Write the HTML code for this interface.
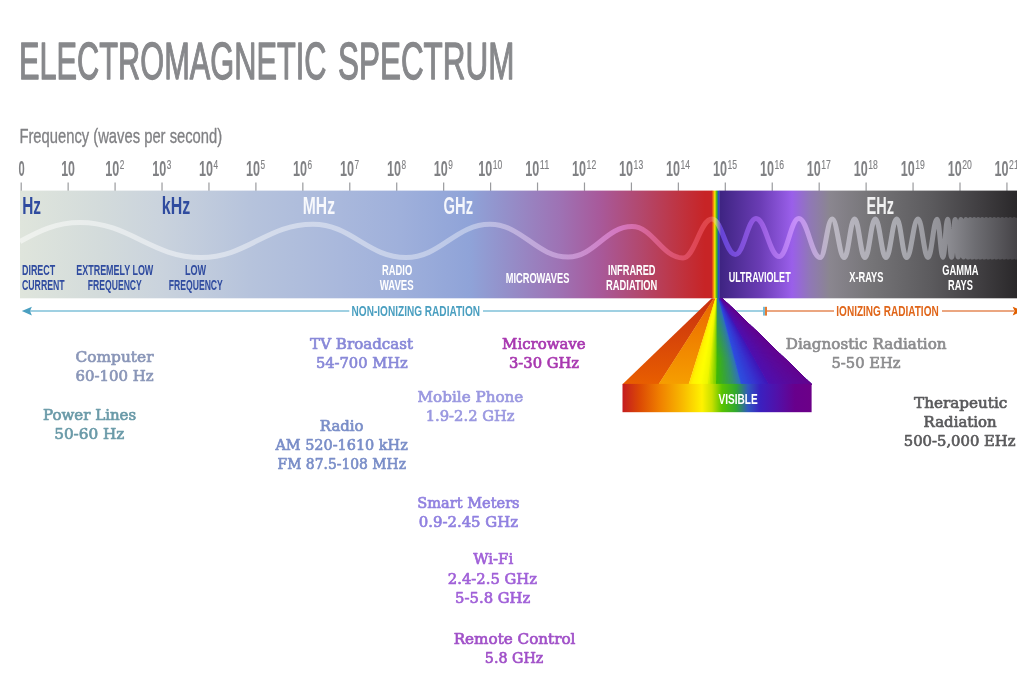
<!DOCTYPE html>
<html lang="en">
<head>
<meta charset="utf-8">
<title>Electromagnetic Spectrum</title>
<style>html,body{margin:0;padding:0;background:#fff;overflow:hidden}svg{display:block}</style>
</head>
<body>
<svg width="1017" height="677" viewBox="0 0 1017 677">
<defs>
<linearGradient id="gb1" gradientUnits="userSpaceOnUse" x1="20" y1="0" x2="712" y2="0"><stop offset="0.0000" stop-color="#dfe5dc"/><stop offset="0.1156" stop-color="#d3dbdb"/><stop offset="0.2023" stop-color="#cad3dd"/><stop offset="0.3324" stop-color="#b6c3dc"/><stop offset="0.4624" stop-color="#a9b8dc"/><stop offset="0.5491" stop-color="#9fb0db"/><stop offset="0.6503" stop-color="#8fa3d8"/><stop offset="0.6936" stop-color="#9393cc"/><stop offset="0.7803" stop-color="#9e72b4"/><stop offset="0.8382" stop-color="#a8599a"/><stop offset="0.8960" stop-color="#b2486e"/><stop offset="0.9538" stop-color="#bf3340"/><stop offset="0.9899" stop-color="#c72426"/><stop offset="0.9997" stop-color="#c72426"/></linearGradient>
<linearGradient id="gb2" gradientUnits="userSpaceOnUse" x1="720" y1="0" x2="1017" y2="0"><stop offset="0.0000" stop-color="#3e2482"/><stop offset="0.1347" stop-color="#6a3cb4"/><stop offset="0.2424" stop-color="#9a5fea"/><stop offset="0.3030" stop-color="#9078b6"/><stop offset="0.3704" stop-color="#8a868f"/><stop offset="0.5051" stop-color="#767578"/><stop offset="0.7071" stop-color="#5c5b5e"/><stop offset="0.8754" stop-color="#403e41"/><stop offset="1.0000" stop-color="#2a282a"/></linearGradient>
<linearGradient id="gvis" gradientUnits="userSpaceOnUse" x1="711.8" y1="0" x2="719.8" y2="0"><stop offset="0.0000" stop-color="#d8281c"/><stop offset="0.1750" stop-color="#f07a10"/><stop offset="0.3750" stop-color="#f8e800"/><stop offset="0.6250" stop-color="#38b020"/><stop offset="0.8500" stop-color="#2848d0"/><stop offset="1.0000" stop-color="#3a2090"/></linearGradient>
<linearGradient id="gw" gradientUnits="userSpaceOnUse" x1="20" y1="0" x2="1017" y2="0"><stop offset="0.0000" stop-color="#ffffff" stop-opacity="0.5"/><stop offset="0.4514" stop-color="#ffffff" stop-opacity="0.38"/><stop offset="0.5416" stop-color="#f0d0ff" stop-opacity="0.45"/><stop offset="0.6018" stop-color="#ee90e8" stop-opacity="0.6"/><stop offset="0.6419" stop-color="#f070a0" stop-opacity="0.6"/><stop offset="0.6820" stop-color="#f05868" stop-opacity="0.6"/><stop offset="0.6931" stop-color="#f06060" stop-opacity="0.6"/><stop offset="0.6981" stop-color="#f4f490" stop-opacity="0.5"/><stop offset="0.7031" stop-color="#6a48e0" stop-opacity="0.9"/><stop offset="0.7422" stop-color="#a060e8" stop-opacity="0.85"/><stop offset="0.7773" stop-color="#d098ff" stop-opacity="0.8"/><stop offset="0.8124" stop-color="#c8c4d0" stop-opacity="0.8"/><stop offset="0.8826" stop-color="#b4b5bc" stop-opacity="0.85"/><stop offset="0.9278" stop-color="#96969c" stop-opacity="0.9"/><stop offset="0.9579" stop-color="#727277" stop-opacity="0.9"/><stop offset="1.0000" stop-color="#454347" stop-opacity="1"/></linearGradient>
<linearGradient id="gvr" gradientUnits="userSpaceOnUse" x1="622.5" y1="0" x2="811.6" y2="0"><stop offset="0.0000" stop-color="#c41c20"/><stop offset="0.0925" stop-color="#dc4a04"/><stop offset="0.1983" stop-color="#f08000"/><stop offset="0.3146" stop-color="#f8b800"/><stop offset="0.4204" stop-color="#fff200"/><stop offset="0.4733" stop-color="#c8e000"/><stop offset="0.5262" stop-color="#58c400"/><stop offset="0.6002" stop-color="#30a830"/><stop offset="0.6637" stop-color="#3058c0"/><stop offset="0.7271" stop-color="#3a20c0"/><stop offset="0.8223" stop-color="#5210a8"/><stop offset="0.9122" stop-color="#68008c"/><stop offset="1.0000" stop-color="#6c0088"/></linearGradient>
<linearGradient id="f1" gradientUnits="userSpaceOnUse" x1="0" y1="298" x2="0" y2="384"><stop offset="0" stop-color="#c83010"/><stop offset="1" stop-color="#e85e00"/></linearGradient>
<linearGradient id="f2" gradientUnits="userSpaceOnUse" x1="0" y1="298" x2="0" y2="384"><stop offset="0" stop-color="#ea6800"/><stop offset="1" stop-color="#f69e00"/></linearGradient>
<linearGradient id="f3" gradientUnits="userSpaceOnUse" x1="689" y1="0" x2="716" y2="0"><stop offset="0.0000" stop-color="#fcd800"/><stop offset="0.5185" stop-color="#ffff00"/><stop offset="1.0000" stop-color="#58c800"/></linearGradient>
<linearGradient id="f4" gradientUnits="userSpaceOnUse" x1="716" y1="0" x2="741" y2="0"><stop offset="0.0000" stop-color="#48c000"/><stop offset="0.4800" stop-color="#38a838"/><stop offset="1.0000" stop-color="#3078c8"/></linearGradient>
<linearGradient id="f4o" gradientUnits="userSpaceOnUse" x1="0" y1="298" x2="0" y2="384"><stop offset="0" stop-color="#2c70b8" stop-opacity="0.8"/><stop offset="0.7" stop-color="#2c70b8" stop-opacity="0"/></linearGradient>
<linearGradient id="f5" gradientUnits="userSpaceOnUse" x1="741" y1="0" x2="769" y2="0"><stop offset="0.0000" stop-color="#2c58e0"/><stop offset="1.0000" stop-color="#3c18c0"/></linearGradient>
<linearGradient id="f6" gradientUnits="userSpaceOnUse" x1="769" y1="0" x2="811.6" y2="0"><stop offset="0.0000" stop-color="#4a10b0"/><stop offset="0.4930" stop-color="#5c0898"/><stop offset="1.0000" stop-color="#62048e"/></linearGradient>
</defs>
<rect width="1017" height="677" fill="#ffffff"/>
<text y="79" font-family="'Liberation Sans', sans-serif" font-size="51.6" fill="#87888b" stroke="#87888b" stroke-width="1.3" stroke-linejoin="round"><tspan x="19.0" textLength="307.4" lengthAdjust="spacingAndGlyphs">ELECTROMAGNETIC</tspan> <tspan x="338.0" textLength="176.4" lengthAdjust="spacingAndGlyphs">SPECTRUM</tspan></text>
<text x="19.4" y="143.1" font-family="'Liberation Sans', sans-serif" font-size="21" font-weight="normal" fill="#808184" textLength="202.8" lengthAdjust="spacingAndGlyphs" stroke="#808184" stroke-width="0.35" stroke-linejoin="round">Frequency (waves per second)</text>
<rect x="20.60" y="182.5" width="1.2" height="8.5" fill="#9a9b9e"/>
<rect x="67.54" y="182.5" width="1.2" height="8.5" fill="#9a9b9e"/>
<rect x="114.48" y="182.5" width="1.2" height="8.5" fill="#9a9b9e"/>
<rect x="161.42" y="182.5" width="1.2" height="8.5" fill="#9a9b9e"/>
<rect x="208.36" y="182.5" width="1.2" height="8.5" fill="#9a9b9e"/>
<rect x="255.30" y="182.5" width="1.2" height="8.5" fill="#9a9b9e"/>
<rect x="302.24" y="182.5" width="1.2" height="8.5" fill="#9a9b9e"/>
<rect x="349.18" y="182.5" width="1.2" height="8.5" fill="#9a9b9e"/>
<rect x="396.12" y="182.5" width="1.2" height="8.5" fill="#9a9b9e"/>
<rect x="443.06" y="182.5" width="1.2" height="8.5" fill="#9a9b9e"/>
<rect x="490.00" y="182.5" width="1.2" height="8.5" fill="#9a9b9e"/>
<rect x="536.94" y="182.5" width="1.2" height="8.5" fill="#9a9b9e"/>
<rect x="583.88" y="182.5" width="1.2" height="8.5" fill="#9a9b9e"/>
<rect x="630.82" y="182.5" width="1.2" height="8.5" fill="#9a9b9e"/>
<rect x="677.76" y="182.5" width="1.2" height="8.5" fill="#9a9b9e"/>
<rect x="724.70" y="182.5" width="1.2" height="8.5" fill="#9a9b9e"/>
<rect x="771.64" y="182.5" width="1.2" height="8.5" fill="#9a9b9e"/>
<rect x="818.58" y="182.5" width="1.2" height="8.5" fill="#9a9b9e"/>
<rect x="865.52" y="182.5" width="1.2" height="8.5" fill="#9a9b9e"/>
<rect x="912.46" y="182.5" width="1.2" height="8.5" fill="#9a9b9e"/>
<rect x="959.40" y="182.5" width="1.2" height="8.5" fill="#9a9b9e"/>
<rect x="1006.34" y="182.5" width="1.2" height="8.5" fill="#9a9b9e"/>
<text x="18.6" y="175.8" font-family="'Liberation Sans', sans-serif" font-size="22.3" font-weight="bold" fill="#808184" textLength="6.2" lengthAdjust="spacingAndGlyphs">0</text>
<text x="61.2" y="175.8" font-family="'Liberation Sans', sans-serif" font-size="22.3" font-weight="bold" fill="#808184" textLength="13.8" lengthAdjust="spacingAndGlyphs">10</text>
<text y="175.8" font-family="'Liberation Sans', sans-serif" fill="#808184"><tspan x="105.2" font-size="22.3" textLength="14.0" lengthAdjust="spacingAndGlyphs" font-weight="bold">10</tspan><tspan x="119.7" y="168.6" font-size="12.4" textLength="4.6" lengthAdjust="spacingAndGlyphs" stroke="#808184" stroke-width="0.15">2</tspan></text>
<text y="175.8" font-family="'Liberation Sans', sans-serif" fill="#808184"><tspan x="152.2" font-size="22.3" textLength="14.0" lengthAdjust="spacingAndGlyphs" font-weight="bold">10</tspan><tspan x="166.7" y="168.6" font-size="12.4" textLength="4.6" lengthAdjust="spacingAndGlyphs" stroke="#808184" stroke-width="0.15">3</tspan></text>
<text y="175.8" font-family="'Liberation Sans', sans-serif" fill="#808184"><tspan x="199.1" font-size="22.3" textLength="14.0" lengthAdjust="spacingAndGlyphs" font-weight="bold">10</tspan><tspan x="213.6" y="168.6" font-size="12.4" textLength="4.6" lengthAdjust="spacingAndGlyphs" stroke="#808184" stroke-width="0.15">4</tspan></text>
<text y="175.8" font-family="'Liberation Sans', sans-serif" fill="#808184"><tspan x="246.0" font-size="22.3" textLength="14.0" lengthAdjust="spacingAndGlyphs" font-weight="bold">10</tspan><tspan x="260.5" y="168.6" font-size="12.4" textLength="4.6" lengthAdjust="spacingAndGlyphs" stroke="#808184" stroke-width="0.15">5</tspan></text>
<text y="175.8" font-family="'Liberation Sans', sans-serif" fill="#808184"><tspan x="293.0" font-size="22.3" textLength="14.0" lengthAdjust="spacingAndGlyphs" font-weight="bold">10</tspan><tspan x="307.5" y="168.6" font-size="12.4" textLength="4.6" lengthAdjust="spacingAndGlyphs" stroke="#808184" stroke-width="0.15">6</tspan></text>
<text y="175.8" font-family="'Liberation Sans', sans-serif" fill="#808184"><tspan x="339.9" font-size="22.3" textLength="14.0" lengthAdjust="spacingAndGlyphs" font-weight="bold">10</tspan><tspan x="354.4" y="168.6" font-size="12.4" textLength="4.6" lengthAdjust="spacingAndGlyphs" stroke="#808184" stroke-width="0.15">7</tspan></text>
<text y="175.8" font-family="'Liberation Sans', sans-serif" fill="#808184"><tspan x="386.9" font-size="22.3" textLength="14.0" lengthAdjust="spacingAndGlyphs" font-weight="bold">10</tspan><tspan x="401.4" y="168.6" font-size="12.4" textLength="4.6" lengthAdjust="spacingAndGlyphs" stroke="#808184" stroke-width="0.15">8</tspan></text>
<text y="175.8" font-family="'Liberation Sans', sans-serif" fill="#808184"><tspan x="433.8" font-size="22.3" textLength="14.0" lengthAdjust="spacingAndGlyphs" font-weight="bold">10</tspan><tspan x="448.3" y="168.6" font-size="12.4" textLength="4.6" lengthAdjust="spacingAndGlyphs" stroke="#808184" stroke-width="0.15">9</tspan></text>
<text y="175.8" font-family="'Liberation Sans', sans-serif" fill="#808184"><tspan x="478.2" font-size="22.3" textLength="14.0" lengthAdjust="spacingAndGlyphs" font-weight="bold">10</tspan><tspan x="492.7" y="168.6" font-size="12.4" textLength="9.6" lengthAdjust="spacingAndGlyphs" stroke="#808184" stroke-width="0.15">10</tspan></text>
<text y="175.8" font-family="'Liberation Sans', sans-serif" fill="#808184"><tspan x="525.2" font-size="22.3" textLength="14.0" lengthAdjust="spacingAndGlyphs" font-weight="bold">10</tspan><tspan x="539.7" y="168.6" font-size="12.4" textLength="9.6" lengthAdjust="spacingAndGlyphs" stroke="#808184" stroke-width="0.15">11</tspan></text>
<text y="175.8" font-family="'Liberation Sans', sans-serif" fill="#808184"><tspan x="572.1" font-size="22.3" textLength="14.0" lengthAdjust="spacingAndGlyphs" font-weight="bold">10</tspan><tspan x="586.6" y="168.6" font-size="12.4" textLength="9.6" lengthAdjust="spacingAndGlyphs" stroke="#808184" stroke-width="0.15">12</tspan></text>
<text y="175.8" font-family="'Liberation Sans', sans-serif" fill="#808184"><tspan x="619.1" font-size="22.3" textLength="14.0" lengthAdjust="spacingAndGlyphs" font-weight="bold">10</tspan><tspan x="633.6" y="168.6" font-size="12.4" textLength="9.6" lengthAdjust="spacingAndGlyphs" stroke="#808184" stroke-width="0.15">13</tspan></text>
<text y="175.8" font-family="'Liberation Sans', sans-serif" fill="#808184"><tspan x="666.0" font-size="22.3" textLength="14.0" lengthAdjust="spacingAndGlyphs" font-weight="bold">10</tspan><tspan x="680.5" y="168.6" font-size="12.4" textLength="9.6" lengthAdjust="spacingAndGlyphs" stroke="#808184" stroke-width="0.15">14</tspan></text>
<text y="175.8" font-family="'Liberation Sans', sans-serif" fill="#808184"><tspan x="713.0" font-size="22.3" textLength="14.0" lengthAdjust="spacingAndGlyphs" font-weight="bold">10</tspan><tspan x="727.5" y="168.6" font-size="12.4" textLength="9.6" lengthAdjust="spacingAndGlyphs" stroke="#808184" stroke-width="0.15">15</tspan></text>
<text y="175.8" font-family="'Liberation Sans', sans-serif" fill="#808184"><tspan x="759.9" font-size="22.3" textLength="14.0" lengthAdjust="spacingAndGlyphs" font-weight="bold">10</tspan><tspan x="774.4" y="168.6" font-size="12.4" textLength="9.6" lengthAdjust="spacingAndGlyphs" stroke="#808184" stroke-width="0.15">16</tspan></text>
<text y="175.8" font-family="'Liberation Sans', sans-serif" fill="#808184"><tspan x="806.8" font-size="22.3" textLength="14.0" lengthAdjust="spacingAndGlyphs" font-weight="bold">10</tspan><tspan x="821.3" y="168.6" font-size="12.4" textLength="9.6" lengthAdjust="spacingAndGlyphs" stroke="#808184" stroke-width="0.15">17</tspan></text>
<text y="175.8" font-family="'Liberation Sans', sans-serif" fill="#808184"><tspan x="853.8" font-size="22.3" textLength="14.0" lengthAdjust="spacingAndGlyphs" font-weight="bold">10</tspan><tspan x="868.3" y="168.6" font-size="12.4" textLength="9.6" lengthAdjust="spacingAndGlyphs" stroke="#808184" stroke-width="0.15">18</tspan></text>
<text y="175.8" font-family="'Liberation Sans', sans-serif" fill="#808184"><tspan x="900.7" font-size="22.3" textLength="14.0" lengthAdjust="spacingAndGlyphs" font-weight="bold">10</tspan><tspan x="915.2" y="168.6" font-size="12.4" textLength="9.6" lengthAdjust="spacingAndGlyphs" stroke="#808184" stroke-width="0.15">19</tspan></text>
<text y="175.8" font-family="'Liberation Sans', sans-serif" fill="#808184"><tspan x="947.7" font-size="22.3" textLength="14.0" lengthAdjust="spacingAndGlyphs" font-weight="bold">10</tspan><tspan x="962.2" y="168.6" font-size="12.4" textLength="9.6" lengthAdjust="spacingAndGlyphs" stroke="#808184" stroke-width="0.15">20</tspan></text>
<text y="175.8" font-family="'Liberation Sans', sans-serif" fill="#808184"><tspan x="994.6" font-size="22.3" textLength="14.0" lengthAdjust="spacingAndGlyphs" font-weight="bold">10</tspan><tspan x="1009.1" y="168.6" font-size="12.4" textLength="9.6" lengthAdjust="spacingAndGlyphs" stroke="#808184" stroke-width="0.15">21</tspan></text>
<rect x="20" y="190.6" width="692.2" height="107.7" fill="url(#gb1)"/>
<rect x="719.6" y="190.6" width="298" height="107.7" fill="url(#gb2)"/>
<rect x="711.8" y="190.6" width="8" height="107.9" fill="url(#gvis)"/>
<path d="M20,241.5 C39,231 56,222.5 80,222.5 C129.6,222.5 151.4,257.5 201,257.5 C246.9,257.5 267.1,224.2 313,224.2 C351.1,224.2 367.9,257.6 406,257.6 C440.4,257.6 455.6,224.3 490,224.3 C522.1,224.3 536.1,257 568.2,257 C594.4,257 605.8,226.5 632,226.5 C652.9,226.5 662.1,258 683,258 C694.9,258 700.1,219 712,219 C721.6,219 725.8,254.5 735.4,254.5 C743.8,254.5 747.6,218.6 756,218.6 C765.5,218.6 769.6,256.5 779.1,256.5 C787.2,256.5 790.7,218.6 798.8,218.6 C807.6,218.6 811.4,257.5 820.2,257.5 C825.1,257.5 827.3,219 832.2,219 C837.1,219 839.3,257.6 844.2,257.6 C848.5,257.6 850.3,219 854.6,219 C858.8,219 860.7,257.6 864.9,257.6 C869.2,257.6 871.0,219 875.3,219 C879.7,219 881.6,257.6 886,257.6 C890.4,257.6 892.3,219 896.7,219 C900.8,219 902.5,257.6 906.6,257.6 C911.3,257.6 913.3,219 918.0,219 C922.1,219 923.9,257.4 928.0,257.4 C931.7,257.4 933.4,219.2 937.1,219.2 C939.5,219.2 940.6,257.3 943.0,257.3 C944.9,257.3 945.7,219.3 947.6,219.3 C949.2,219.3 950.0,257.2 951.6,257.2 C953.1,257.2 953.7,219.4 955.2,219.4 C956.4,219.4 957.0,257.1 958.2,257.1 C959.3,257.1 959.8,219.5 960.9,219.5 C962.0,219.5 962.4,257.1 963.5,257.1 C964.5,257.1 964.9,219.5 965.9,219.5 C966.8,219.5 967.2,257.1 968.1,257.1 C969.0,257.1 969.3,219.5 970.2,219.5 C971.0,219.5 971.4,257.1 972.2,257.1 C973.0,257.1 973.4,219.5 974.2,219.5 C975.0,219.5 975.4,257.1 976.2,257.1 C977.0,257.1 977.4,219.5 978.2,219.5 C979.0,219.5 979.4,257.1 980.2,257.1 C981.0,257.1 981.4,219.5 982.2,219.5 C983.0,219.5 983.4,257.1 984.2,257.1 C985.0,257.1 985.4,219.5 986.2,219.5 C987.0,219.5 987.4,257.1 988.2,257.1 C989.0,257.1 989.4,219.5 990.2,219.5 C991.0,219.5 991.4,257.1 992.2,257.1 C993.0,257.1 993.4,219.5 994.2,219.5 C995.0,219.5 995.4,257.1 996.2,257.1 C997.0,257.1 997.4,219.5 998.2,219.5 C999.0,219.5 999.4,257.1 1000.2,257.1 C1001.0,257.1 1001.4,219.5 1002.2,219.5 C1003.0,219.5 1003.4,257.1 1004.2,257.1 C1005.0,257.1 1005.4,219.5 1006.2,219.5 C1007.0,219.5 1007.4,257.1 1008.2,257.1 C1009.0,257.1 1009.4,219.5 1010.2,219.5 C1011.0,219.5 1011.4,257.1 1012.2,257.1 C1013.0,257.1 1013.4,219.5 1014.2,219.5 C1015.0,219.5 1015.4,257.1 1016.2,257.1 C1017.0,257.1 1017.4,219.5 1018.2,219.5 C1019.0,219.5 1019.4,257.1 1020.2,257.1 C1021.0,257.1 1021.4,219.5 1022.2,219.5 C1023.0,219.5 1023.4,257.1 1024.2,257.1" fill="none" stroke="url(#gw)" stroke-width="5" stroke-linecap="butt" stroke-linejoin="round"/>
<text x="22.2" y="214.3" font-family="'Liberation Sans', sans-serif" font-size="24" font-weight="bold" fill="#2f4b9f" textLength="18.8" lengthAdjust="spacingAndGlyphs">Hz</text>
<text x="161.8" y="214.3" font-family="'Liberation Sans', sans-serif" font-size="24" font-weight="bold" fill="#2f4b9f" textLength="28.4" lengthAdjust="spacingAndGlyphs">kHz</text>
<text x="302.8" y="214.3" font-family="'Liberation Sans', sans-serif" font-size="24" font-weight="bold" fill="#ffffff" textLength="32.2" lengthAdjust="spacingAndGlyphs" fill-opacity="0.9">MHz</text>
<text x="443.5" y="214.3" font-family="'Liberation Sans', sans-serif" font-size="24" font-weight="bold" fill="#ffffff" textLength="29.5" lengthAdjust="spacingAndGlyphs" fill-opacity="0.9">GHz</text>
<text x="866.6" y="214.1" font-family="'Liberation Sans', sans-serif" font-size="24" font-weight="bold" fill="#ffffff" textLength="27.4" lengthAdjust="spacingAndGlyphs" fill-opacity="0.9">EHz</text>
<text x="22.0" y="274.9" font-family="'Liberation Sans', sans-serif" font-size="13.8" font-weight="bold" fill="#2f4b9f" textLength="33.2" lengthAdjust="spacingAndGlyphs">DIRECT</text>
<text x="22.0" y="289.9" font-family="'Liberation Sans', sans-serif" font-size="13.8" font-weight="bold" fill="#2f4b9f" textLength="42.7" lengthAdjust="spacingAndGlyphs">CURRENT</text>
<text x="76.3" y="274.9" font-family="'Liberation Sans', sans-serif" font-size="13.8" font-weight="bold" fill="#2f4b9f" textLength="77.0" lengthAdjust="spacingAndGlyphs">EXTREMELY LOW</text>
<text x="87.8" y="289.9" font-family="'Liberation Sans', sans-serif" font-size="13.8" font-weight="bold" fill="#2f4b9f" textLength="54.0" lengthAdjust="spacingAndGlyphs">FREQUENCY</text>
<text x="185.0" y="274.9" font-family="'Liberation Sans', sans-serif" font-size="13.8" font-weight="bold" fill="#2f4b9f" textLength="21.2" lengthAdjust="spacingAndGlyphs">LOW</text>
<text x="168.8" y="289.9" font-family="'Liberation Sans', sans-serif" font-size="13.8" font-weight="bold" fill="#2f4b9f" textLength="54.0" lengthAdjust="spacingAndGlyphs">FREQUENCY</text>
<text x="382.0" y="274.9" font-family="'Liberation Sans', sans-serif" font-size="13.8" font-weight="bold" fill="#ffffff" textLength="30.2" lengthAdjust="spacingAndGlyphs">RADIO</text>
<text x="379.7" y="289.9" font-family="'Liberation Sans', sans-serif" font-size="13.8" font-weight="bold" fill="#ffffff" textLength="34.0" lengthAdjust="spacingAndGlyphs">WAVES</text>
<text x="505.7" y="282.5" font-family="'Liberation Sans', sans-serif" font-size="13.8" font-weight="bold" fill="#ffffff" textLength="63.7" lengthAdjust="spacingAndGlyphs">MICROWAVES</text>
<text x="607.9" y="274.9" font-family="'Liberation Sans', sans-serif" font-size="13.8" font-weight="bold" fill="#ffffff" textLength="47.6" lengthAdjust="spacingAndGlyphs">INFRARED</text>
<text x="606.1" y="289.9" font-family="'Liberation Sans', sans-serif" font-size="13.8" font-weight="bold" fill="#ffffff" textLength="51.2" lengthAdjust="spacingAndGlyphs">RADIATION</text>
<text x="728.7" y="282.3" font-family="'Liberation Sans', sans-serif" font-size="13.8" font-weight="bold" fill="#ffffff" textLength="62.0" lengthAdjust="spacingAndGlyphs">ULTRAVIOLET</text>
<text x="849.2" y="282.3" font-family="'Liberation Sans', sans-serif" font-size="13.8" font-weight="bold" fill="#ffffff" textLength="34.2" lengthAdjust="spacingAndGlyphs">X-RAYS</text>
<text x="942.2" y="275.1" font-family="'Liberation Sans', sans-serif" font-size="13.8" font-weight="bold" fill="#ffffff" textLength="36.3" lengthAdjust="spacingAndGlyphs">GAMMA</text>
<text x="948.1" y="289.8" font-family="'Liberation Sans', sans-serif" font-size="13.8" font-weight="bold" fill="#ffffff" textLength="24.8" lengthAdjust="spacingAndGlyphs">RAYS</text>
<rect x="30" y="310" width="319.3" height="2" fill="#9fd0e2"/>
<rect x="483" y="310" width="281" height="2" fill="#9fd0e2"/>
<path d="M21.8,311 L31.9,306.8 L30,311 L31.9,315.4 Z" fill="#4a9fc0"/>
<rect x="763" y="306.8" width="2" height="8.8" fill="#78bcd6"/>
<rect x="765" y="306.8" width="2" height="8.8" fill="#e67a30"/>
<rect x="767" y="310" width="67" height="2" fill="#eba680"/>
<rect x="942" y="310" width="72" height="2" fill="#eba680"/>
<path d="M1022.8,311 L1012.7,306.8 L1014.6,311 L1012.7,315.4 Z" fill="#e05f00"/>
<text x="351.6" y="316.1" font-family="'Liberation Sans', sans-serif" font-size="15.3" font-weight="bold" fill="#4a9fc0" textLength="128.4" lengthAdjust="spacingAndGlyphs">NON-IONIZING RADIATION</text>
<text x="836.3" y="316.1" font-family="'Liberation Sans', sans-serif" font-size="15.3" font-weight="bold" fill="#e0661a" textLength="102.4" lengthAdjust="spacingAndGlyphs">IONIZING RADIATION</text>
<polygon points="711.5,298.4 713.9,298.4 658.8,384.2 622.5,384.2" fill="url(#f1)"/>
<polygon points="713.6,298.4 715.6,298.4 688.9,384.2 658.5,384.2" fill="url(#f2)"/>
<polygon points="715.3,298.4 716.9,298.4 716.0,384.2 688.6,384.2" fill="#ffe100"/>
<polygon points="715.4,298.4 716.9,298.4 716.0,384.2 690.2,384.2" fill="#ffec00"/>
<polygon points="715.5,298.4 716.9,298.4 716.0,384.2 691.8,384.2" fill="#fff300"/>
<polygon points="715.6,298.4 716.9,298.4 716.0,384.2 693.4,384.2" fill="#fff600"/>
<polygon points="715.7,298.4 716.9,298.4 716.0,384.2 695.0,384.2" fill="#fff800"/>
<polygon points="715.8,298.4 716.9,298.4 716.0,384.2 696.7,384.2" fill="#fffb00"/>
<polygon points="715.9,298.4 716.9,298.4 716.0,384.2 698.3,384.2" fill="#fffd00"/>
<polygon points="716.0,298.4 716.9,298.4 716.0,384.2 699.9,384.2" fill="#fdfe00"/>
<polygon points="716.1,298.4 716.9,298.4 716.0,384.2 701.5,384.2" fill="#f9fc00"/>
<polygon points="716.2,298.4 716.9,298.4 716.0,384.2 703.1,384.2" fill="#f5fa00"/>
<polygon points="716.3,298.4 716.9,298.4 716.0,384.2 704.7,384.2" fill="#f2f800"/>
<polygon points="716.4,298.4 716.9,298.4 716.0,384.2 706.3,384.2" fill="#ecf500"/>
<polygon points="716.5,298.4 716.9,298.4 716.0,384.2 707.9,384.2" fill="#d6ee00"/>
<polygon points="716.6,298.4 716.9,298.4 716.0,384.2 709.6,384.2" fill="#c0e600"/>
<polygon points="716.7,298.4 716.9,298.4 716.0,384.2 711.2,384.2" fill="#abdf00"/>
<polygon points="716.8,298.4 716.9,298.4 716.0,384.2 712.8,384.2" fill="#95d700"/>
<polygon points="716.8,298.4 716.9,298.4 716.0,384.2 714.4,384.2" fill="#7fd000"/>
<polygon points="716.9,298.4 718.4,298.4 741.0,384.2 716.0,384.2" fill="#3fb804"/>
<polygon points="717.0,298.4 718.4,298.4 741.0,384.2 717.6,384.2" fill="#3eb50e"/>
<polygon points="717.1,298.4 718.4,298.4 741.0,384.2 719.1,384.2" fill="#3cb117"/>
<polygon points="717.2,298.4 718.4,298.4 741.0,384.2 720.7,384.2" fill="#3bae21"/>
<polygon points="717.3,298.4 718.4,298.4 741.0,384.2 722.2,384.2" fill="#39aa2a"/>
<polygon points="717.4,298.4 718.4,298.4 741.0,384.2 723.8,384.2" fill="#38a634"/>
<polygon points="717.5,298.4 718.4,298.4 741.0,384.2 725.4,384.2" fill="#37a23f"/>
<polygon points="717.6,298.4 718.4,298.4 741.0,384.2 726.9,384.2" fill="#369e4a"/>
<polygon points="717.7,298.4 718.4,298.4 741.0,384.2 728.5,384.2" fill="#369a56"/>
<polygon points="717.8,298.4 718.4,298.4 741.0,384.2 730.1,384.2" fill="#359661"/>
<polygon points="717.8,298.4 718.4,298.4 741.0,384.2 731.6,384.2" fill="#34926c"/>
<polygon points="717.9,298.4 718.4,298.4 741.0,384.2 733.2,384.2" fill="#348c7a"/>
<polygon points="718.0,298.4 718.4,298.4 741.0,384.2 734.8,384.2" fill="#338689"/>
<polygon points="718.1,298.4 718.4,298.4 741.0,384.2 736.3,384.2" fill="#328099"/>
<polygon points="718.2,298.4 718.4,298.4 741.0,384.2 737.9,384.2" fill="#3179a9"/>
<polygon points="718.3,298.4 718.4,298.4 741.0,384.2 739.4,384.2" fill="#3073b8"/>
<polygon points="718.4,298.4 720.0,298.4 768.5,384.2 741.0,384.2" fill="#2d4fdf"/>
<polygon points="718.5,298.4 720.0,298.4 768.5,384.2 742.6,384.2" fill="#2e4bdd"/>
<polygon points="718.6,298.4 720.0,298.4 768.5,384.2 744.2,384.2" fill="#2f48db"/>
<polygon points="718.7,298.4 720.0,298.4 768.5,384.2 745.9,384.2" fill="#3045da"/>
<polygon points="718.8,298.4 720.0,298.4 768.5,384.2 747.5,384.2" fill="#3142d8"/>
<polygon points="718.9,298.4 720.0,298.4 768.5,384.2 749.1,384.2" fill="#323ed6"/>
<polygon points="719.0,298.4 720.0,298.4 768.5,384.2 750.7,384.2" fill="#333bd4"/>
<polygon points="719.1,298.4 720.0,298.4 768.5,384.2 752.3,384.2" fill="#3538d2"/>
<polygon points="719.1,298.4 720.0,298.4 768.5,384.2 753.9,384.2" fill="#3635d0"/>
<polygon points="719.2,298.4 720.0,298.4 768.5,384.2 755.6,384.2" fill="#3731ce"/>
<polygon points="719.3,298.4 720.0,298.4 768.5,384.2 757.2,384.2" fill="#382dcb"/>
<polygon points="719.4,298.4 720.0,298.4 768.5,384.2 758.8,384.2" fill="#392ac8"/>
<polygon points="719.5,298.4 720.0,298.4 768.5,384.2 760.4,384.2" fill="#3b26c5"/>
<polygon points="719.6,298.4 720.0,298.4 768.5,384.2 762.0,384.2" fill="#3c23c2"/>
<polygon points="719.7,298.4 720.0,298.4 768.5,384.2 763.6,384.2" fill="#3d1fbf"/>
<polygon points="719.8,298.4 720.0,298.4 768.5,384.2 765.3,384.2" fill="#3e1bbc"/>
<polygon points="719.9,298.4 720.0,298.4 768.5,384.2 766.9,384.2" fill="#3f18b9"/>
<polygon points="720.0,298.4 722.5,298.4 811.6,384.2 768.5,384.2" fill="#4e10af"/>
<polygon points="720.1,298.4 722.5,298.4 811.6,384.2 770.1,384.2" fill="#4f0fae"/>
<polygon points="720.2,298.4 722.5,298.4 811.6,384.2 771.7,384.2" fill="#500fac"/>
<polygon points="720.3,298.4 722.5,298.4 811.6,384.2 773.3,384.2" fill="#510eab"/>
<polygon points="720.4,298.4 722.5,298.4 811.6,384.2 774.9,384.2" fill="#520ea9"/>
<polygon points="720.5,298.4 722.5,298.4 811.6,384.2 776.5,384.2" fill="#530ea8"/>
<polygon points="720.6,298.4 722.5,298.4 811.6,384.2 778.1,384.2" fill="#540da6"/>
<polygon points="720.6,298.4 722.5,298.4 811.6,384.2 779.7,384.2" fill="#550da5"/>
<polygon points="720.7,298.4 722.5,298.4 811.6,384.2 781.3,384.2" fill="#560ca3"/>
<polygon points="720.8,298.4 722.5,298.4 811.6,384.2 782.9,384.2" fill="#560ca2"/>
<polygon points="720.9,298.4 722.5,298.4 811.6,384.2 784.5,384.2" fill="#570ba0"/>
<polygon points="721.0,298.4 722.5,298.4 811.6,384.2 786.1,384.2" fill="#580b9f"/>
<polygon points="721.1,298.4 722.5,298.4 811.6,384.2 787.7,384.2" fill="#590a9d"/>
<polygon points="721.2,298.4 722.5,298.4 811.6,384.2 789.3,384.2" fill="#5a0a9c"/>
<polygon points="721.3,298.4 722.5,298.4 811.6,384.2 790.8,384.2" fill="#5b0a9b"/>
<polygon points="721.4,298.4 722.5,298.4 811.6,384.2 792.4,384.2" fill="#5b099a"/>
<polygon points="721.5,298.4 722.5,298.4 811.6,384.2 794.0,384.2" fill="#5c0999"/>
<polygon points="721.6,298.4 722.5,298.4 811.6,384.2 795.6,384.2" fill="#5c0898"/>
<polygon points="721.7,298.4 722.5,298.4 811.6,384.2 797.2,384.2" fill="#5d0897"/>
<polygon points="721.8,298.4 722.5,298.4 811.6,384.2 798.8,384.2" fill="#5e0796"/>
<polygon points="721.9,298.4 722.5,298.4 811.6,384.2 800.4,384.2" fill="#5e0795"/>
<polygon points="721.9,298.4 722.5,298.4 811.6,384.2 802.0,384.2" fill="#5f0694"/>
<polygon points="722.0,298.4 722.5,298.4 811.6,384.2 803.6,384.2" fill="#5f0693"/>
<polygon points="722.1,298.4 722.5,298.4 811.6,384.2 805.2,384.2" fill="#600692"/>
<polygon points="722.2,298.4 722.5,298.4 811.6,384.2 806.8,384.2" fill="#610591"/>
<polygon points="722.3,298.4 722.5,298.4 811.6,384.2 808.4,384.2" fill="#610590"/>
<polygon points="722.4,298.4 722.5,298.4 811.6,384.2 810.0,384.2" fill="#62048f"/>
<polygon points="716.9,298.4 718.4,298.4 741.0,384.2 716.0,384.2" fill="url(#f4o)"/>
<rect x="622.5" y="383.9" width="189.1" height="28.3" fill="url(#gvr)"/>
<text x="718.5" y="403.5" font-family="'Liberation Sans', sans-serif" font-size="15.4" font-weight="bold" fill="#ffffff" textLength="39.1" lengthAdjust="spacingAndGlyphs">VISIBLE</text>
<text x="75.5" y="361.5" font-family="'DejaVu Serif', 'Liberation Serif', serif" font-size="15.6" font-weight="normal" fill="#8a96b8" textLength="78.0" lengthAdjust="spacingAndGlyphs" stroke="#8a96b8" stroke-width="0.7" stroke-linejoin="round">Computer</text>
<text x="75.5" y="380.7" font-family="'DejaVu Serif', 'Liberation Serif', serif" font-size="15.6" font-weight="normal" fill="#8a96b8" textLength="78.0" lengthAdjust="spacingAndGlyphs" stroke="#8a96b8" stroke-width="0.7" stroke-linejoin="round">60-100 Hz</text>
<text x="43.0" y="420.1" font-family="'DejaVu Serif', 'Liberation Serif', serif" font-size="15.6" font-weight="normal" fill="#6a9aa8" textLength="93.2" lengthAdjust="spacingAndGlyphs" stroke="#6a9aa8" stroke-width="0.7" stroke-linejoin="round">Power Lines</text>
<text x="54.2" y="438.9" font-family="'DejaVu Serif', 'Liberation Serif', serif" font-size="15.6" font-weight="normal" fill="#6a9aa8" textLength="70.2" lengthAdjust="spacingAndGlyphs" stroke="#6a9aa8" stroke-width="0.7" stroke-linejoin="round">50-60 Hz</text>
<text x="310.1" y="348.6" font-family="'DejaVu Serif', 'Liberation Serif', serif" font-size="15.6" font-weight="normal" fill="#8888d8" textLength="103.0" lengthAdjust="spacingAndGlyphs" stroke="#8888d8" stroke-width="0.7" stroke-linejoin="round">TV Broadcast</text>
<text x="315.9" y="367.8" font-family="'DejaVu Serif', 'Liberation Serif', serif" font-size="15.6" font-weight="normal" fill="#8888d8" textLength="91.9" lengthAdjust="spacingAndGlyphs" stroke="#8888d8" stroke-width="0.7" stroke-linejoin="round">54-700 MHz</text>
<text x="319.8" y="431.0" font-family="'DejaVu Serif', 'Liberation Serif', serif" font-size="15.6" font-weight="normal" fill="#7a8ec8" textLength="43.8" lengthAdjust="spacingAndGlyphs" stroke="#7a8ec8" stroke-width="0.7" stroke-linejoin="round">Radio</text>
<text x="275.4" y="450.2" font-family="'DejaVu Serif', 'Liberation Serif', serif" font-size="15.6" font-weight="normal" fill="#7a8ec8" textLength="132.4" lengthAdjust="spacingAndGlyphs" stroke="#7a8ec8" stroke-width="0.7" stroke-linejoin="round">AM 520-1610 kHz</text>
<text x="277.6" y="469.2" font-family="'DejaVu Serif', 'Liberation Serif', serif" font-size="15.6" font-weight="normal" fill="#7a8ec8" textLength="128.4" lengthAdjust="spacingAndGlyphs" stroke="#7a8ec8" stroke-width="0.7" stroke-linejoin="round">FM 87.5-108 MHz</text>
<text x="502.1" y="348.6" font-family="'DejaVu Serif', 'Liberation Serif', serif" font-size="15.6" font-weight="normal" fill="#a838b0" textLength="83.5" lengthAdjust="spacingAndGlyphs" stroke="#a838b0" stroke-width="0.7" stroke-linejoin="round">Microwave</text>
<text x="509.0" y="367.8" font-family="'DejaVu Serif', 'Liberation Serif', serif" font-size="15.6" font-weight="normal" fill="#a838b0" textLength="70.1" lengthAdjust="spacingAndGlyphs" stroke="#a838b0" stroke-width="0.7" stroke-linejoin="round">3-30 GHz</text>
<text x="417.6" y="402.3" font-family="'DejaVu Serif', 'Liberation Serif', serif" font-size="15.6" font-weight="normal" fill="#9a98e0" textLength="105.7" lengthAdjust="spacingAndGlyphs" stroke="#9a98e0" stroke-width="0.7" stroke-linejoin="round">Mobile Phone</text>
<text x="425.7" y="421.1" font-family="'DejaVu Serif', 'Liberation Serif', serif" font-size="15.6" font-weight="normal" fill="#9a98e0" textLength="88.9" lengthAdjust="spacingAndGlyphs" stroke="#9a98e0" stroke-width="0.7" stroke-linejoin="round">1.9-2.2 GHz</text>
<text x="417.3" y="507.7" font-family="'DejaVu Serif', 'Liberation Serif', serif" font-size="15.6" font-weight="normal" fill="#9080e0" textLength="102.3" lengthAdjust="spacingAndGlyphs" stroke="#9080e0" stroke-width="0.7" stroke-linejoin="round">Smart Meters</text>
<text x="418.7" y="526.6" font-family="'DejaVu Serif', 'Liberation Serif', serif" font-size="15.6" font-weight="normal" fill="#9080e0" textLength="99.4" lengthAdjust="spacingAndGlyphs" stroke="#9080e0" stroke-width="0.7" stroke-linejoin="round">0.9-2.45 GHz</text>
<text x="473.2" y="564.4" font-family="'DejaVu Serif', 'Liberation Serif', serif" font-size="15.6" font-weight="normal" fill="#a060d8" textLength="40.0" lengthAdjust="spacingAndGlyphs" stroke="#a060d8" stroke-width="0.7" stroke-linejoin="round">Wi-Fi</text>
<text x="447.8" y="583.9" font-family="'DejaVu Serif', 'Liberation Serif', serif" font-size="15.6" font-weight="normal" fill="#a060d8" textLength="89.2" lengthAdjust="spacingAndGlyphs" stroke="#a060d8" stroke-width="0.7" stroke-linejoin="round">2.4-2.5 GHz</text>
<text x="455.1" y="602.9" font-family="'DejaVu Serif', 'Liberation Serif', serif" font-size="15.6" font-weight="normal" fill="#a060d8" textLength="75.2" lengthAdjust="spacingAndGlyphs" stroke="#a060d8" stroke-width="0.7" stroke-linejoin="round">5-5.8 GHz</text>
<text x="453.7" y="643.6" font-family="'DejaVu Serif', 'Liberation Serif', serif" font-size="15.6" font-weight="normal" fill="#a050c8" textLength="121.8" lengthAdjust="spacingAndGlyphs" stroke="#a050c8" stroke-width="0.7" stroke-linejoin="round">Remote Control</text>
<text x="484.8" y="662.5" font-family="'DejaVu Serif', 'Liberation Serif', serif" font-size="15.6" font-weight="normal" fill="#a050c8" textLength="58.6" lengthAdjust="spacingAndGlyphs" stroke="#a050c8" stroke-width="0.7" stroke-linejoin="round">5.8 GHz</text>
<text x="785.8" y="348.6" font-family="'DejaVu Serif', 'Liberation Serif', serif" font-size="15.6" font-weight="normal" fill="#8c8c8e" textLength="160.8" lengthAdjust="spacingAndGlyphs" stroke="#8c8c8e" stroke-width="0.7" stroke-linejoin="round">Diagnostic Radiation</text>
<text x="831.5" y="368.0" font-family="'DejaVu Serif', 'Liberation Serif', serif" font-size="15.6" font-weight="normal" fill="#8c8c8e" textLength="69.1" lengthAdjust="spacingAndGlyphs" stroke="#8c8c8e" stroke-width="0.7" stroke-linejoin="round">5-50 EHz</text>
<text x="914.1" y="407.6" font-family="'DejaVu Serif', 'Liberation Serif', serif" font-size="15.6" font-weight="normal" fill="#5a5a5c" textLength="93.2" lengthAdjust="spacingAndGlyphs" stroke="#5a5a5c" stroke-width="0.7" stroke-linejoin="round">Therapeutic</text>
<text x="923.6" y="426.5" font-family="'DejaVu Serif', 'Liberation Serif', serif" font-size="15.6" font-weight="normal" fill="#5a5a5c" textLength="73.1" lengthAdjust="spacingAndGlyphs" stroke="#5a5a5c" stroke-width="0.7" stroke-linejoin="round">Radiation</text>
<text x="903.8" y="445.8" font-family="'DejaVu Serif', 'Liberation Serif', serif" font-size="15.6" font-weight="normal" fill="#5a5a5c" textLength="111.7" lengthAdjust="spacingAndGlyphs" stroke="#5a5a5c" stroke-width="0.7" stroke-linejoin="round">500-5,000 EHz</text>
</svg>
</body>
</html>
